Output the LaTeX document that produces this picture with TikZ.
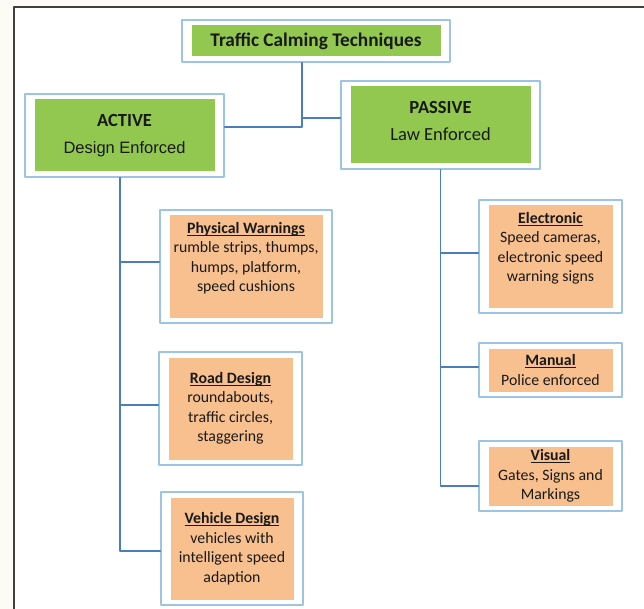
\documentclass[tikz,border=0pt]{standalone}
\usepackage{fontspec}
\setmainfont{Carlito}
\newfontfamily\arialfont{Liberation Sans}
\usetikzlibrary{calc}
\definecolor{boxgreen}{HTML}{92C84F}
\definecolor{boxorange}{HTML}{F8C08E}
\definecolor{boxedge}{HTML}{9CC4E4}
\definecolor{linkblue}{HTML}{4A7EBB}
\definecolor{pagecream}{HTML}{FCFBF6}
\newcommand{\subhead}[1]{\setbox0\hbox{\textbf{#1}}\rlap{\rule[-2.6pt]{\wd0}{1.2pt}}\box0}
\tikzset{
	frame/.style={draw=boxedge,line width=1.2pt,fill=white,align=center,inner sep=0pt,text=black!90},
	greenbox/.style={frame,font=\fontsize{18.5}{27.5}\selectfont,
		path picture={\fill[boxgreen] ([shift={(9.5pt,-5.5pt)}]path picture bounding box.north west) rectangle ([shift={(-9.5pt,5.5pt)}]path picture bounding box.south east);}},
	orangebox/.style={frame,font=\fontsize{15.8}{19.5}\selectfont,
		path picture={\fill[boxorange] ([shift={(9.5pt,-5.5pt)}]path picture bounding box.north west) rectangle ([shift={(-9.5pt,5.5pt)}]path picture bounding box.south east);}},
	link/.style={draw=linkblue,line width=1.2pt}
}
\begin{document}
\begin{tikzpicture}[x=1pt,y=-1pt,line join=round,line cap=round]
	%		\draw (0,0) grid[step=20] (644,609);
	\useasboundingbox (0,0) rectangle (644,609);
	\fill[pagecream] (0,0) rectangle (644,609);
	\fill[white] (14,7) rectangle (644,609);
	\draw[black!75,line width=1.6pt] (14,609)--(14,7)--(644,7);
	
	% top level
	\node[greenbox,minimum width=268,minimum height=42,font=\fontsize{19.3}{24}\selectfont] (title) at (316,41) {\textbf{Traffic Calming Techniques}};
	\node[greenbox,minimum width=199,minimum height=83] (active) at (124.5,135.5) {\textbf{ACTIVE}\\{\arialfont\fontsize{16.5}{20}\selectfont Design Enforced}};
	\node[greenbox,minimum width=199,minimum height=88] (passive) at (440.5,125) {\textbf{PASSIVE}\\Law Enforced\\[-19pt]\mbox{}};
	
	% active side
	\node[orangebox,minimum width=172,minimum height=113] (warn) at (246,266.5) {\subhead{Physical Warnings}\\rumble strips, thumps,\\humps, platform,\\speed cushions\\[-6pt]\strut};
	\node[orangebox,minimum width=143,minimum height=113] (road) at (230.5,408.5) {\subhead{Road Design}\\roundabouts,\\traffic circles,\\staggering};
	\node[orangebox,minimum width=142,minimum height=113] (vehicle) at (232,548.5) {\subhead{Vehicle Design}\\vehicles with\\intelligent speed\\adaption};
	
	% passive side
	\node[orangebox,minimum width=143,minimum height=113] (elec) at (550.5,256.5) {\subhead{Electronic}\\Speed cameras,\\electronic speed\\warning signs\\[-6pt]\strut};
	\node[orangebox,minimum width=143,minimum height=54] (manual) at (550.5,370) {\subhead{Manual}\\Police enforced};
	\node[orangebox,minimum width=143,minimum height=70] (visual) at (550.5,476) {\subhead{Visual}\\Gates, Signs and\\Markings};
	
	% connectors
	\coordinate (ja) at (302,127);
	\coordinate (jp) at (302,118);
	\draw[link] (title.south -| ja)--(ja)--(ja -| active.east);
	\draw[link] (jp)--(jp -| passive.west);
	
	\coordinate (ta) at ([xshift=-4.5pt]active.south);
	\coordinate (bw) at ($(warn.west)+(0,-4.5)$);
	\coordinate (br) at ($(road.west)+(0,-3.5)$);
	\coordinate (bv) at ($(vehicle.west)+(0,2.5)$);
	\draw[link] (ta)--(ta |- bv)--(bv);
	\draw[link] (bw -| ta)--(bw);
	\draw[link] (br -| ta)--(br);
	
	\coordinate (be) at ($(elec.west)+(0,-3.5)$);
	\coordinate (bm) at ($(manual.west)+(0,-3)$);
	\coordinate (bs) at ($(visual.west)+(0,10)$);
	\draw[link] (passive.south)--(passive.south |- bs)--(bs);
	\draw[link] (be -| passive.south)--(be);
	\draw[link] (bm -| passive.south)--(bm);
\end{tikzpicture}
\end{document}
